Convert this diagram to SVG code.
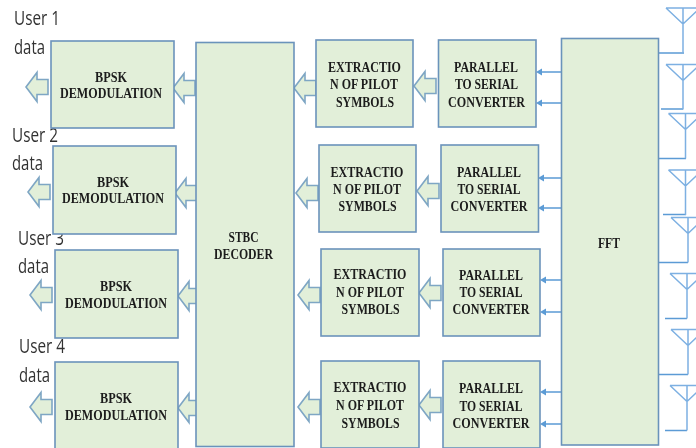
<svg xmlns="http://www.w3.org/2000/svg" width="696" height="448" viewBox="0 0 696 448">
<style>
.b{fill:#e2efd9;stroke:#6b93bb;stroke-width:1.6}
.a{fill:#e2efd9;stroke:#7ea6c4;stroke-width:1.6}
.w{fill:none;stroke:#7db0e2;stroke-width:1.5}
.f{fill:none;stroke:#5b9bd5;stroke-width:1.5}
.s{fill:#5b9bd5;stroke:none}
.t{font-family:"Liberation Serif",serif;font-size:14.500px;font-weight:bold;fill:#1c1c1c;text-anchor:middle}
.u{font-family:"Open Sans","Liberation Sans",sans-serif;font-size:20px;fill:#333}
</style>
<defs>
<filter id="soft" x="-2%" y="-2%" width="104%" height="104%"><feGaussianBlur stdDeviation="0.45"/></filter>
<path id="bl" d="M0 0L11 -14.5V-7.5H22V7.5H11V14.5Z"/>
<path id="ant" d="M0 0H34M17 16L0 0M17 16L34 0M17 0V45"/>
<path id="sm" d="M0 0L6 -3.5V3.5Z"/>
</defs>
<g filter="url(#soft)">
<g id="connectors">
<use href="#bl" class="a" x="26" y="87"/><use href="#bl" class="a" x="173" y="88"/><use href="#bl" class="a" x="294" y="88"/><use href="#bl" class="a" x="414" y="86"/>
<use href="#bl" class="a" x="28" y="192"/><use href="#bl" class="a" x="175" y="193"/><use href="#bl" class="a" x="296" y="193"/><use href="#bl" class="a" x="417" y="191"/>
<use href="#bl" class="a" x="30" y="295"/><use href="#bl" class="a" x="178" y="296"/><use href="#bl" class="a" x="298" y="295"/><use href="#bl" class="a" x="419" y="293"/>
<use href="#bl" class="a" x="30" y="407"/><use href="#bl" class="a" x="178" y="408"/><use href="#bl" class="a" x="298" y="407"/><use href="#bl" class="a" x="419" y="405"/>
<path class="f" d="M561 72H541M561 103H541M561 178H543M561 208H543M561 280H545M561 312H545M561 392H545M561 424H545"/>
<g>
<use href="#sm" class="s" x="536" y="72"/><use href="#sm" class="s" x="536" y="103"/><use href="#sm" class="s" x="538" y="178"/><use href="#sm" class="s" x="538" y="208"/>
<use href="#sm" class="s" x="540" y="280"/><use href="#sm" class="s" x="540" y="312"/><use href="#sm" class="s" x="540" y="392"/><use href="#sm" class="s" x="540" y="424"/>
</g>
<path class="f" d="M655 53H684M661 109H683M659 158.500H686M663 214.500H686M659 262.500H688M665 318.500H687M659 374.500H688M665 430.500H687"/>
</g>
<g id="antennas">
<use href="#ant" class="w" x="666" y="8"/><use href="#ant" class="w" x="666" y="64.500"/><use href="#ant" class="w" x="668.500" y="113.500"/><use href="#ant" class="w" x="668.500" y="170"/>
<use href="#ant" class="w" x="671" y="217.500"/><use href="#ant" class="w" x="670" y="273.500"/><use href="#ant" class="w" x="671" y="329.500"/><use href="#ant" class="w" x="670" y="385.500"/>
</g>
<g id="user-labels">
<text class="u" x="14" y="25" textLength="46" lengthAdjust="spacingAndGlyphs">User 1</text><text class="u" x="14" y="54" textLength="31" lengthAdjust="spacingAndGlyphs">data</text>
<text class="u" x="12" y="142" textLength="46" lengthAdjust="spacingAndGlyphs">User 2</text><text class="u" x="12" y="170" textLength="31" lengthAdjust="spacingAndGlyphs">data</text>
<text class="u" x="18" y="245" textLength="46" lengthAdjust="spacingAndGlyphs">User 3</text><text class="u" x="18" y="273" textLength="31" lengthAdjust="spacingAndGlyphs">data</text>
<text class="u" x="19" y="353" textLength="46" lengthAdjust="spacingAndGlyphs">User 4</text><text class="u" x="19" y="382" textLength="31" lengthAdjust="spacingAndGlyphs">data</text>
</g>
<g id="bpsk1"><rect class="b" x="51" y="41" width="123" height="87"/><text class="t" x="111" y="81.500" textLength="32" lengthAdjust="spacingAndGlyphs">BPSK</text><text class="t" x="111" y="98" textLength="102" lengthAdjust="spacingAndGlyphs">DEMODULATION</text></g>
<g id="bpsk2"><rect class="b" x="53" y="146" width="123" height="88"/><text class="t" x="113" y="186.500" textLength="32" lengthAdjust="spacingAndGlyphs">BPSK</text><text class="t" x="113" y="203" textLength="102" lengthAdjust="spacingAndGlyphs">DEMODULATION</text></g>
<g id="bpsk3"><rect class="b" x="55" y="250" width="123" height="88"/><text class="t" x="116" y="291" textLength="32" lengthAdjust="spacingAndGlyphs">BPSK</text><text class="t" x="116" y="308" textLength="102" lengthAdjust="spacingAndGlyphs">DEMODULATION</text></g>
<g id="bpsk4"><rect class="b" x="55" y="362" width="123" height="90"/><text class="t" x="116" y="403" textLength="32" lengthAdjust="spacingAndGlyphs">BPSK</text><text class="t" x="116" y="420" textLength="102" lengthAdjust="spacingAndGlyphs">DEMODULATION</text></g>
<g id="stbc"><rect class="b" x="196" y="42.500" width="98" height="404"/><text class="t" x="243.500" y="242" textLength="30" lengthAdjust="spacingAndGlyphs">STBC</text><text class="t" x="243.500" y="259" textLength="59" lengthAdjust="spacingAndGlyphs">DECODER</text></g>
<g id="extract1"><rect class="b" x="316" y="40" width="97" height="87"/><text class="t" x="364.500" y="72" textLength="73" lengthAdjust="spacingAndGlyphs">EXTRACTIO</text><text class="t" x="364" y="89" textLength="68" lengthAdjust="spacingAndGlyphs">N OF PILOT</text><text class="t" x="365" y="107" textLength="58" lengthAdjust="spacingAndGlyphs">SYMBOLS</text></g>
<g id="extract2"><rect class="b" x="319" y="145" width="97" height="87"/><text class="t" x="367" y="177" textLength="73" lengthAdjust="spacingAndGlyphs">EXTRACTIO</text><text class="t" x="367" y="194" textLength="68" lengthAdjust="spacingAndGlyphs">N OF PILOT</text><text class="t" x="367.500" y="211" textLength="58" lengthAdjust="spacingAndGlyphs">SYMBOLS</text></g>
<g id="extract3"><rect class="b" x="321" y="249" width="98" height="87"/><text class="t" x="370" y="279" textLength="73" lengthAdjust="spacingAndGlyphs">EXTRACTIO</text><text class="t" x="370" y="297" textLength="68" lengthAdjust="spacingAndGlyphs">N OF PILOT</text><text class="t" x="370.500" y="314" textLength="58" lengthAdjust="spacingAndGlyphs">SYMBOLS</text></g>
<g id="extract4"><rect class="b" x="321" y="361" width="98" height="87"/><text class="t" x="370" y="392" textLength="73" lengthAdjust="spacingAndGlyphs">EXTRACTIO</text><text class="t" x="370" y="410" textLength="68" lengthAdjust="spacingAndGlyphs">N OF PILOT</text><text class="t" x="370.500" y="428" textLength="58" lengthAdjust="spacingAndGlyphs">SYMBOLS</text></g>
<g id="p2s1"><rect class="b" x="438.500" y="40" width="97.500" height="87"/><text class="t" x="486" y="72" textLength="64" lengthAdjust="spacingAndGlyphs">PARALLEL</text><text class="t" x="486.500" y="89" textLength="63" lengthAdjust="spacingAndGlyphs">TO SERIAL</text><text class="t" x="486.500" y="107" textLength="77" lengthAdjust="spacingAndGlyphs">CONVERTER</text></g>
<g id="p2s2"><rect class="b" x="441" y="145" width="97.500" height="87"/><text class="t" x="489" y="177" textLength="64" lengthAdjust="spacingAndGlyphs">PARALLEL</text><text class="t" x="489" y="194" textLength="63" lengthAdjust="spacingAndGlyphs">TO SERIAL</text><text class="t" x="489" y="211" textLength="77" lengthAdjust="spacingAndGlyphs">CONVERTER</text></g>
<g id="p2s3"><rect class="b" x="443" y="249" width="97" height="87"/><text class="t" x="491" y="280" textLength="64" lengthAdjust="spacingAndGlyphs">PARALLEL</text><text class="t" x="491" y="297" textLength="63" lengthAdjust="spacingAndGlyphs">TO SERIAL</text><text class="t" x="491" y="314" textLength="77" lengthAdjust="spacingAndGlyphs">CONVERTER</text></g>
<g id="p2s4"><rect class="b" x="443" y="361" width="97" height="87"/><text class="t" x="491" y="393" textLength="64" lengthAdjust="spacingAndGlyphs">PARALLEL</text><text class="t" x="491" y="411" textLength="63" lengthAdjust="spacingAndGlyphs">TO SERIAL</text><text class="t" x="491" y="428" textLength="77" lengthAdjust="spacingAndGlyphs">CONVERTER</text></g>
<g id="fft"><rect class="b" x="561.500" y="38.500" width="97" height="406.500"/><text class="t" x="609" y="248" textLength="22" lengthAdjust="spacingAndGlyphs">FFT</text></g>
</g>
</svg>
